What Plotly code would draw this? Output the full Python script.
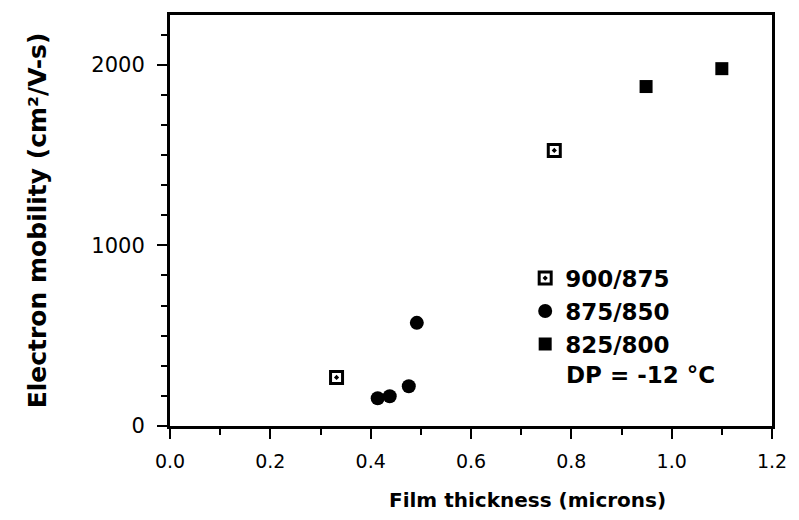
import plotly.graph_objects as go

# Data
x_900_875 = [0.332, 0.766]
y_900_875 = [269, 1525]
x_875_850 = [0.414, 0.438, 0.476, 0.492]
y_875_850 = [154, 165, 220, 571]
x_825_800 = [0.949, 1.100]
y_825_800 = [1879, 1978]

x_ticks = [0.0, 0.2, 0.4, 0.6, 0.8, 1.0, 1.2]
x_ticklabels = ["0.0", "0.2", "0.4", "0.6", "0.8", "1.0", "1.2"]
y_ticks = [0, 1000, 2000]
y_ticklabels = ["0", "1000", "2000"]

FONT = "DejaVu Sans"

fig = go.Figure()
fig.add_trace(go.Scatter(x=x_900_875, y=y_900_875, mode="markers", name="900/875",
                         marker=dict(symbol="square-open-dot", size=12, color="black",
                                     line=dict(width=3, color="black"))))
fig.add_trace(go.Scatter(x=x_875_850, y=y_875_850, mode="markers", name="875/850",
                         marker=dict(symbol="circle", size=14, color="black")))
fig.add_trace(go.Scatter(x=x_825_800, y=y_825_800, mode="markers", name="825/800",
                         marker=dict(symbol="square", size=13, color="black")))

fig.add_annotation(text="<b>DP = -12 °C</b>", xref="paper", yref="paper",
                   x=0.655, y=0.125, xanchor="left", yanchor="middle", showarrow=False,
                   font=dict(family=FONT, size=23, color="black"))

fig.add_annotation(text="<b>Film thickness (microns)</b>", xref="paper", yref="paper",
                   x=0.594, y=0, yshift=-74, xanchor="center", yanchor="middle",
                   showarrow=False, font=dict(family=FONT, size=20, color="black"))

fig.update_layout(
    width=799, height=520,
    margin=dict(l=170, r=26, t=12, b=94),
    paper_bgcolor="white", plot_bgcolor="white",
    font=dict(family=FONT, color="black"),
    showlegend=True,
    legend=dict(x=0.59, y=0.412, xanchor="left", yanchor="top",
                bgcolor="rgba(0,0,0,0)", font=dict(family=FONT, size=23, color="black",
                                                   weight="bold"),
                tracegroupgap=0, itemwidth=30),
    xaxis=dict(range=[0, 1.2], tickvals=x_ticks, ticktext=x_ticklabels,
               showgrid=False, zeroline=False, showline=True, linewidth=3, linecolor="black",
               mirror=True, ticks="outside", ticklen=10, tickwidth=2, tickcolor="black",
               ticklabelstandoff=6,
               tickfont=dict(family=FONT, size=19, color="black"),
               minor=dict(dtick=0.1, ticks="outside", ticklen=6, tickwidth=2, tickcolor="black")),
    yaxis=dict(range=[0, 2275], tickvals=y_ticks, ticktext=y_ticklabels,
               showgrid=False, zeroline=False, showline=True, linewidth=3, linecolor="black",
               mirror=True, ticks="outside", ticklen=10, tickwidth=2, tickcolor="black",
               ticklabelstandoff=8,
               tickfont=dict(family=FONT, size=21, color="black"),
               minor=dict(dtick=1000/6, ticks="outside", ticklen=6, tickwidth=2, tickcolor="black"),
               title=dict(text="<b>Electron mobility (cm²/V-s)</b>", standoff=38,
                          font=dict(family=FONT, size=25, color="black"))),
)

fig.write_html("out.html")
